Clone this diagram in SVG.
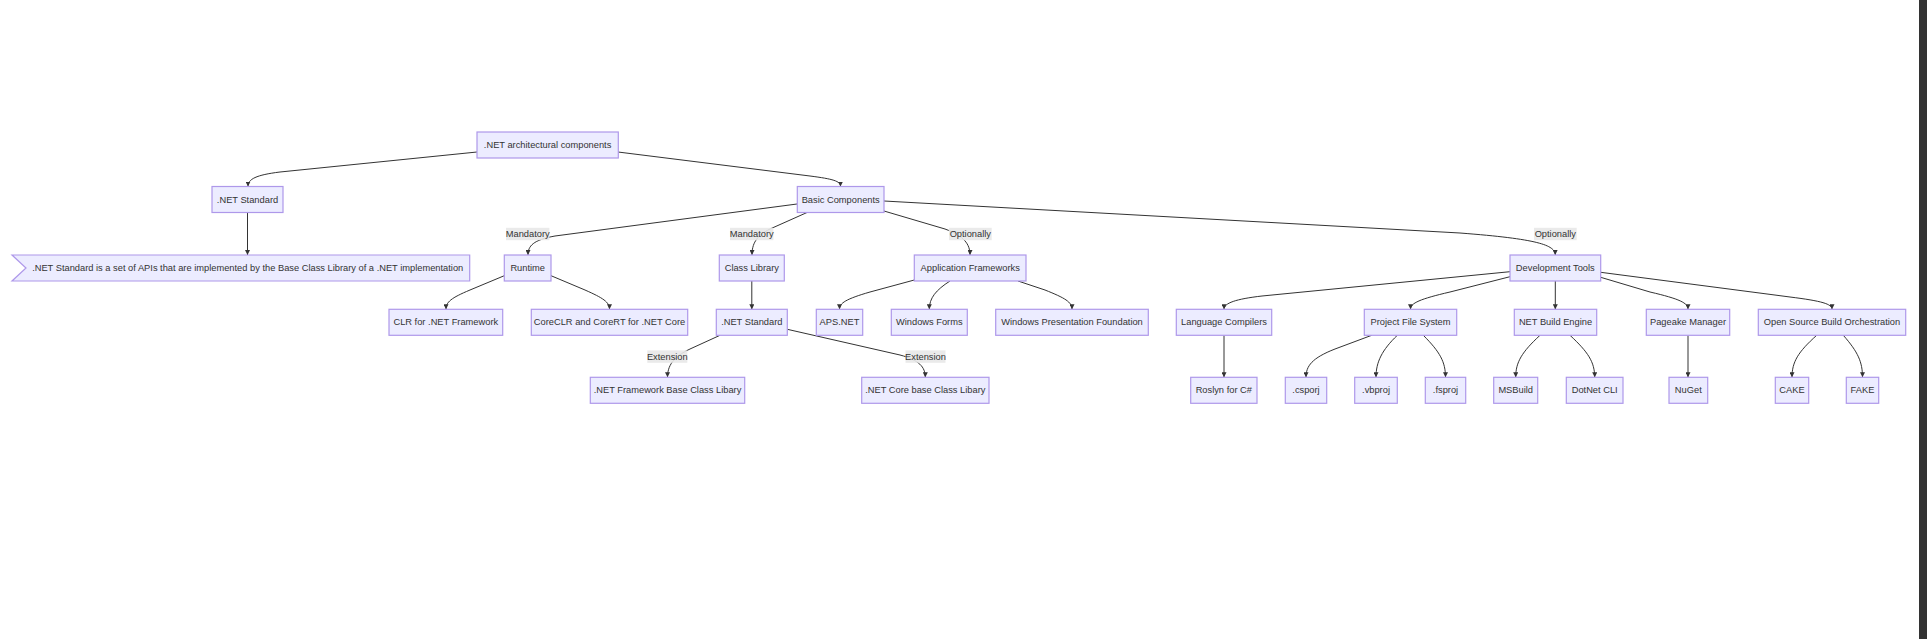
<svg xmlns="http://www.w3.org/2000/svg" width="1927" height="639" viewBox="0 0 1927 639">
<style>
.node rect,.node polygon{fill:#ECECFF;stroke:#ae98ea;stroke-width:1.2}
.node text{font-family:"Liberation Sans",Arial,sans-serif;font-size:9.3px;fill:#333;text-anchor:middle;dominant-baseline:central}
.edges path{fill:none;stroke:#333;stroke-width:1}
.elabel rect{fill:#e8e8e8;opacity:0.9}
.elabel text{font-family:"Liberation Sans",Arial,sans-serif;font-size:9.3px;fill:#333;text-anchor:middle;dominant-baseline:central}
</style>
<defs>
<marker id="arrow" viewBox="0 0 10 10" refX="10" refY="5" markerWidth="5" markerHeight="5" markerUnits="userSpaceOnUse" orient="auto">
<path d="M0,0 L10,5 L0,10 z" fill="#333"/>
</marker>
</defs>
<rect x="0" y="0" width="1927" height="639" fill="#ffffff"/>
<rect x="1919" y="0" width="8" height="639" fill="#333333"/>

<g id="connectors" class="edges">
<path d="M477,152 L280,172 C256,175 248,179 248,186.5" marker-end="url(#arrow)"/>
<path d="M618,152 L810,176 C833,179 840.5,181 840.5,186.5" marker-end="url(#arrow)"/>
<path d="M247.5,212.5 L247.5,255" marker-end="url(#arrow)"/>
<path d="M797,204 L555,236 C533,240 528,246 528,255" marker-end="url(#arrow)"/>
<path d="M807,212.5 L770,229 C756,236 752,244 752,255" marker-end="url(#arrow)"/>
<path d="M884,211 L945,229 C964,236 970,244 970,255" marker-end="url(#arrow)"/>
<path d="M884,201 L1460,233 C1538,239 1555,245 1555.3,255" marker-end="url(#arrow)"/>
<path d="M504.3,275.7 L470,290 C451,298 446,302 446,309.3" marker-end="url(#arrow)"/>
<path d="M551,275.7 L585,290 C603,298 609.5,302 609.5,309.3" marker-end="url(#arrow)"/>
<path d="M751.8,281 L751.8,309.3" marker-end="url(#arrow)"/>
<path d="M914.3,280 L870,292 C846,299 839.5,303 839.5,309.3" marker-end="url(#arrow)"/>
<path d="M950,281 C936,290 929.3,298 929.3,309.3" marker-end="url(#arrow)"/>
<path d="M1018,281 L1045,290 C1065,298 1072,302 1072,309.3" marker-end="url(#arrow)"/>
<path d="M720,335.3 L690,349 C673,357 667.5,366 667.5,377.3" marker-end="url(#arrow)"/>
<path d="M787.3,329.3 L900,355 C919,360 925.3,367 925.3,377.3" marker-end="url(#arrow)"/>
<path d="M1510,271.7 L1262,296 C1236,299 1224,303 1224,309.3" marker-end="url(#arrow)"/>
<path d="M1510,276.7 L1450,292 C1420,299 1410.5,303 1410.5,309.3" marker-end="url(#arrow)"/>
<path d="M1555.3,281 L1555.3,309.3" marker-end="url(#arrow)"/>
<path d="M1600.7,277.3 L1650,292 C1680,299 1688,303 1688,309.3" marker-end="url(#arrow)"/>
<path d="M1600.7,272.3 L1790,297 C1822,301 1832,304 1832,309.3" marker-end="url(#arrow)"/>
<path d="M1224,335.3 L1224,377.3" marker-end="url(#arrow)"/>
<path d="M1371.7,335.3 L1335,349 C1312,358 1306,366 1306,377.3" marker-end="url(#arrow)"/>
<path d="M1397.3,335.3 C1382,350 1376,362 1376,377.3" marker-end="url(#arrow)"/>
<path d="M1423.3,335.3 C1440,352 1445.5,362 1445.5,377.3" marker-end="url(#arrow)"/>
<path d="M1540,335.3 C1522,352 1515.7,362 1515.7,377.3" marker-end="url(#arrow)"/>
<path d="M1570,335.3 C1588,352 1594.7,362 1594.7,377.3" marker-end="url(#arrow)"/>
<path d="M1688,335.3 L1688,377.3" marker-end="url(#arrow)"/>
<path d="M1816.7,335.3 C1798,352 1792,362 1792,377.3" marker-end="url(#arrow)"/>
<path d="M1843.3,335.3 C1858,352 1862.5,362 1862.5,377.3" marker-end="url(#arrow)"/>
</g>

<g id="edge-labels">
<g class="elabel"><rect x="506" y="227.8" width="43.4" height="12.4"/><text x="527.7" y="234">Mandatory</text></g>
<g class="elabel"><rect x="730" y="227.8" width="43.4" height="12.4"/><text x="751.7" y="234">Mandatory</text></g>
<g class="elabel"><rect x="949" y="227.8" width="42.7" height="12.4"/><text x="970.3" y="234">Optionally</text></g>
<g class="elabel"><rect x="1534" y="227.8" width="42.7" height="12.4"/><text x="1555.3" y="234">Optionally</text></g>
<g class="elabel"><rect x="647.3" y="350.4" width="40" height="12.4"/><text x="667.3" y="356.6">Extension</text></g>
<g class="elabel"><rect x="905.5" y="350.4" width="40" height="12.4"/><text x="925.5" y="356.6">Extension</text></g>
</g>

<g id="n_top" class="node"><rect x="477" y="132" width="141.3" height="26"/><text x="547.6" y="145">.NET architectural components</text></g>
<g id="n_std" class="node"><rect x="212" y="186.5" width="71" height="26"/><text x="247.5" y="199.5">.NET Standard</text></g>
<g id="n_basic" class="node"><rect x="797.3" y="186.5" width="86.7" height="26"/><text x="840.7" y="199.5">Basic Components</text></g>
<g id="n_flag" class="node"><polygon points="12,255 469.7,255 469.7,281 12,281 26,268"/><text x="247.7" y="268">.NET Standard is a set of APIs that are implemented by the Base Class Library of a .NET implementation</text></g>
<g id="n_runtime" class="node"><rect x="504.3" y="255" width="46.7" height="26"/><text x="527.7" y="268">Runtime</text></g>
<g id="n_classlib" class="node"><rect x="719.3" y="255" width="65" height="26"/><text x="751.8" y="268">Class Library</text></g>
<g id="n_appfw" class="node"><rect x="914.3" y="255" width="111.7" height="26"/><text x="970.2" y="268">Application Frameworks</text></g>
<g id="n_devtools" class="node"><rect x="1510" y="255" width="90.7" height="26"/><text x="1555.3" y="268">Development Tools</text></g>
<g id="n_clr" class="node"><rect x="389" y="309.3" width="113.7" height="26"/><text x="445.8" y="322.3">CLR for .NET Framework</text></g>
<g id="n_coreclr" class="node"><rect x="531.3" y="309.3" width="156.4" height="26"/><text x="609.5" y="322.3">CoreCLR and CoreRT for .NET Core</text></g>
<g id="n_std2" class="node"><rect x="716.3" y="309.3" width="71" height="26"/><text x="751.8" y="322.3">.NET Standard</text></g>
<g id="n_aspnet" class="node"><rect x="816.3" y="309.3" width="46.4" height="26"/><text x="839.5" y="322.3">APS.NET</text></g>
<g id="n_winforms" class="node"><rect x="891.3" y="309.3" width="76" height="26"/><text x="929.3" y="322.3">Windows Forms</text></g>
<g id="n_wpf" class="node"><rect x="995.7" y="309.3" width="152.6" height="26"/><text x="1072" y="322.3">Windows Presentation Foundation</text></g>
<g id="n_langcomp" class="node"><rect x="1176.3" y="309.3" width="95.4" height="26"/><text x="1224" y="322.3">Language Compilers</text></g>
<g id="n_pfs" class="node"><rect x="1364.3" y="309.3" width="92.4" height="26"/><text x="1410.5" y="322.3">Project File System</text></g>
<g id="n_nbe" class="node"><rect x="1514.3" y="309.3" width="82.4" height="26"/><text x="1555.5" y="322.3">NET Build Engine</text></g>
<g id="n_pkg" class="node"><rect x="1646.3" y="309.3" width="83.4" height="26"/><text x="1688" y="322.3">Pageake Manager</text></g>
<g id="n_osbo" class="node"><rect x="1758.3" y="309.3" width="147.4" height="26"/><text x="1832" y="322.3">Open Source Build Orchestration</text></g>
<g id="n_fwbcl" class="node"><rect x="590.3" y="377.3" width="154.4" height="26"/><text x="667.5" y="390.3">.NET Framework Base Class Libary</text></g>
<g id="n_corebcl" class="node"><rect x="861.7" y="377.3" width="127.3" height="26"/><text x="925.3" y="390.3">.NET Core base Class Libary</text></g>
<g id="n_roslyn" class="node"><rect x="1190.7" y="377.3" width="66.3" height="26"/><text x="1223.8" y="390.3">Roslyn for C#</text></g>
<g id="n_csproj" class="node"><rect x="1285.3" y="377.3" width="41.4" height="26"/><text x="1306" y="390.3">.csporj</text></g>
<g id="n_vbproj" class="node"><rect x="1354.7" y="377.3" width="42.6" height="26"/><text x="1376" y="390.3">.vbproj</text></g>
<g id="n_fsproj" class="node"><rect x="1425.3" y="377.3" width="40.4" height="26"/><text x="1445.5" y="390.3">.fsproj</text></g>
<g id="n_msbuild" class="node"><rect x="1493.7" y="377.3" width="44" height="26"/><text x="1515.7" y="390.3">MSBuild</text></g>
<g id="n_dotnetcli" class="node"><rect x="1566.3" y="377.3" width="56.7" height="26"/><text x="1594.7" y="390.3">DotNet CLI</text></g>
<g id="n_nuget" class="node"><rect x="1669" y="377.3" width="38.7" height="26"/><text x="1688.3" y="390.3">NuGet</text></g>
<g id="n_cake" class="node"><rect x="1775.3" y="377.3" width="33.4" height="26"/><text x="1792" y="390.3">CAKE</text></g>
<g id="n_fake" class="node"><rect x="1846.3" y="377.3" width="32.4" height="26"/><text x="1862.5" y="390.3">FAKE</text></g>
</svg>
